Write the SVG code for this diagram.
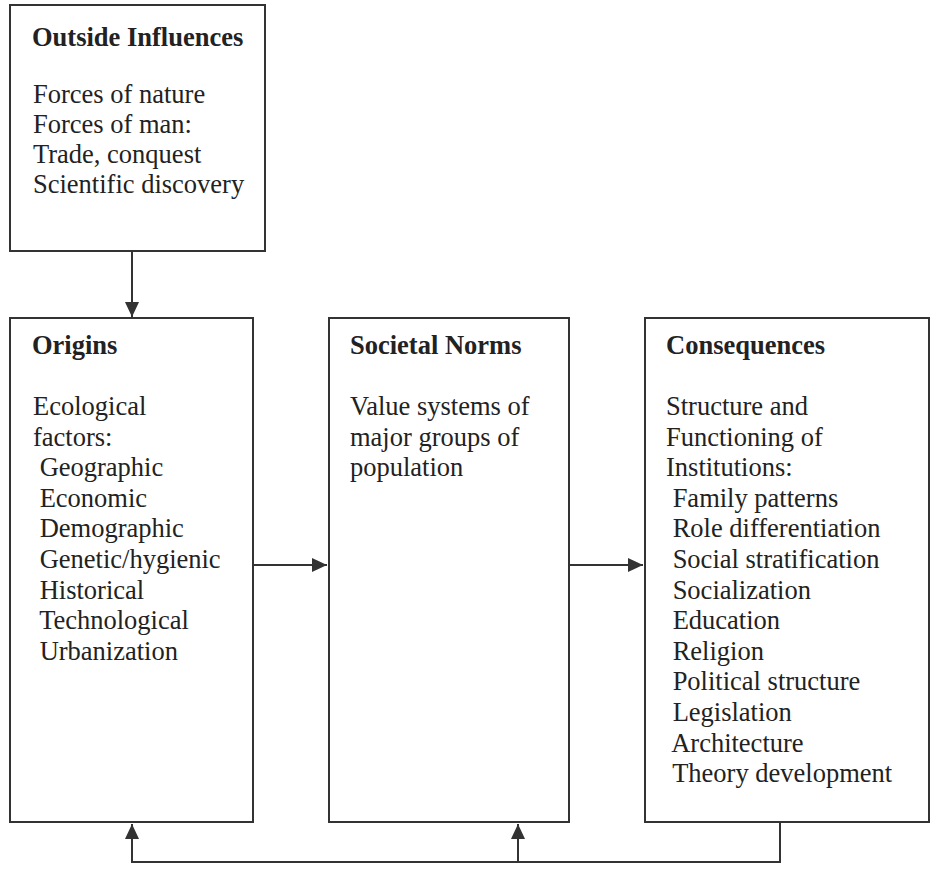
<svg xmlns="http://www.w3.org/2000/svg" width="930" height="893" viewBox="0 0 930 893">
<style>
  .box { fill: #fff; stroke: #333; stroke-width: 2; }
  .conn { fill: none; stroke: #333; stroke-width: 2; }
  text { font-family: "Liberation Serif", "Times New Roman", serif; font-size: 26.5px; fill: #222; white-space: pre; }
  .h { font-weight: bold; }
</style>
<defs>
  <marker id="arr" markerWidth="15" markerHeight="14" refX="15" refY="7" orient="auto" markerUnits="userSpaceOnUse">
    <path d="M0,0 L15,7 L0,14 z" fill="#333"/>
  </marker>
</defs>
<rect width="930" height="893" fill="#fff"/>
<g id="outside">
  <rect class="box" x="10" y="5" width="255" height="246"/>
  <text class="h" x="32" y="46">Outside Influences</text>
  <text x="33" y="103">Forces of nature</text>
  <text x="33" y="133">Forces of man:</text>
  <text x="33" y="163">Trade, conquest</text>
  <text x="33" y="193">Scientific discovery</text>
</g>
<g id="origins">
  <rect class="box" x="10" y="318" width="243" height="504"/>
  <text class="h" x="32" y="354">Origins</text>
  <text x="33" y="415">Ecological</text>
  <text x="33" y="445.6">factors:</text>
  <text x="33" y="476.2"> Geographic</text>
  <text x="33" y="506.8"> Economic</text>
  <text x="33" y="537.4"> Demographic</text>
  <text x="33" y="568"> Genetic/hygienic</text>
  <text x="33" y="598.6"> Historical</text>
  <text x="33" y="629.2"> Technological</text>
  <text x="33" y="659.8"> Urbanization</text>
</g>
<g id="norms">
  <rect class="box" x="329" y="318" width="240" height="504"/>
  <text class="h" x="350" y="354">Societal Norms</text>
  <text x="350" y="415">Value systems of</text>
  <text x="350" y="445.6">major groups of</text>
  <text x="350" y="476.2">population</text>
</g>
<g id="consequences">
  <rect class="box" x="645" y="318" width="284" height="504"/>
  <text class="h" x="666" y="354">Consequences</text>
  <text x="666" y="415">Structure and</text>
  <text x="666" y="445.6">Functioning of</text>
  <text x="666" y="476.2">Institutions:</text>
  <text x="666" y="506.8"> Family patterns</text>
  <text x="666" y="537.4"> Role differentiation</text>
  <text x="666" y="568"> Social stratification</text>
  <text x="666" y="598.6"> Socialization</text>
  <text x="666" y="629.2"> Education</text>
  <text x="666" y="659.8"> Religion</text>
  <text x="666" y="690.4"> Political structure</text>
  <text x="666" y="721"> Legislation</text>
  <text x="666" y="751.6"> Architecture</text>
  <text x="666" y="782.2"> Theory development</text>
</g>
<g id="connectors">
  <line class="conn" x1="132" y1="251" x2="132" y2="317" marker-end="url(#arr)"/>
  <line class="conn" x1="253" y1="565" x2="327" y2="565" marker-end="url(#arr)"/>
  <line class="conn" x1="569" y1="565" x2="643" y2="565" marker-end="url(#arr)"/>
  <path class="conn" d="M780,822 L780,862 L132,862 L132,824" marker-end="url(#arr)"/>
  <line class="conn" x1="518" y1="862" x2="518" y2="824" marker-end="url(#arr)"/>
</g>
</svg>
